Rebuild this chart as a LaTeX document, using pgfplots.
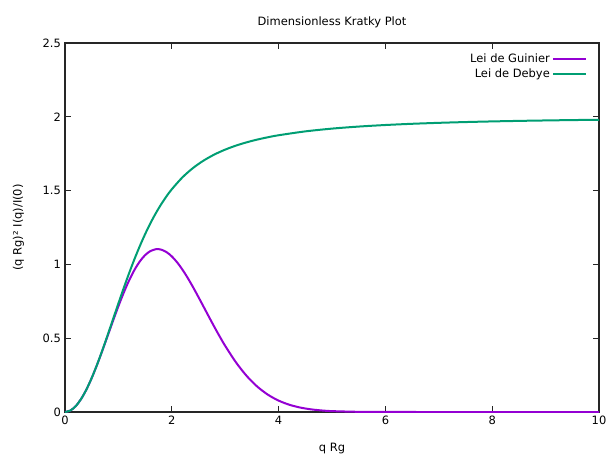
\documentclass[border=0pt]{standalone}
\usepackage{fontspec}
\setmainfont{DejaVu Sans}
\usepackage{pgfplots}
\pgfplotsset{compat=1.18}
\definecolor{gviolet}{HTML}{9400D3}
\definecolor{ggreen}{HTML}{009E73}
\begin{document}
\fontsize{8.6}{10.5}\selectfont
\begin{tikzpicture}
\useasboundingbox (-48.75pt,-32.25pt) rectangle (406.5pt,309pt);
\begin{axis}[
  at={(0pt,0pt)}, anchor=origin,
  width=400.5pt, height=276.75pt, scale only axis,
  xmin=0, xmax=10, ymin=0, ymax=2.5,
  xtick={0,2,4,6,8,10}, ytick={0,0.5,1,1.5,2,2.5},
  tick align=inside, major tick length=4.5pt,
  minor tick num=0,
  /pgf/number format/assume math mode=true,
  yticklabel style={/pgf/number format/fixed, /pgf/number format/precision=1},
  xlabel={q Rg}, ylabel={(q Rg)² I(q)/I(0)},
  title={Dimensionless Kratky Plot},
  title style={yshift=2pt},
  xlabel style={yshift=-8pt},
  ylabel style={yshift=8pt},
  axis line style={line width=0.9pt, black!85},
  every tick/.style={black!85, line width=0.6pt},
  legend style={draw=none, fill=none, at={(0.985,0.985)}, anchor=north east, row sep=-1pt,
    font=\fontsize{8.6}{10.5}\selectfont},
  legend cell align=right, legend plot pos=right,
  legend image code/.code={\draw[#1, line width=1.5pt] (0cm,0cm) -- (0.85cm,0cm);},
]
\addplot[gviolet, line width=1.5pt, smooth] coordinates {
(0,0)(0.1,0.009967)(0.2,0.03947)(0.3,0.08734)(0.4,0.15169)(0.5,0.23001)(0.6,0.31929)(0.7,0.41616)(0.8,0.51705)(0.9,0.61834)(1.0,0.71653)(1.1,0.80839)(1.2,0.89105)(1.3,0.96211)(1.4,1.01980)(1.5,1.06283)(1.6,1.09053)(1.7,1.10286)(1.732,1.10364)(1.8,1.10029)(1.9,1.08369)(2.0,1.05439)(2.1,1.01397)(2.2,0.96432)(2.3,0.90716)(2.4,0.84446)(2.5,0.77821)(2.6,0.71014)(2.7,0.64179)(2.8,0.57467)(2.9,0.50980)(3.0,0.44808)(3.2,0.33726)(3.4,0.24520)(3.6,0.17237)(3.8,0.11730)(4.0,0.07725)(4.2,0.04930)(4.4,0.03050)(4.6,0.01830)(4.8,0.01065)(5.0,0.00600)(5.5,0.00126)(6.0,0.00022)(7.0,0.000003)(8.0,0)(9.0,0)(10.0,0)
};
\addlegendentry{Lei de Guinier}
\addplot[ggreen, line width=1.5pt, smooth] coordinates {
(0,0)(0.1,0.009967)(0.2,0.039472)(0.3,0.08736)(0.4,0.15180)(0.5,0.23041)(0.6,0.32042)(0.7,0.41888)(0.8,0.52279)(0.9,0.62928)(1.0,0.73576)(1.1,0.84000)(1.2,0.94018)(1.3,1.03493)(1.4,1.12332)(1.5,1.20480)(1.6,1.27914)(1.7,1.34642)(1.8,1.40689)(1.9,1.46097)(2.0,1.50916)(2.2,1.59004)(2.4,1.65387)(2.6,1.70448)(2.8,1.74500)(3.0,1.77781)(3.2,1.80469)(3.4,1.82699)(3.6,1.84568)(3.8,1.86150)(4.0,1.875)(4.5,1.90123)(5.0,1.92)(5.5,1.93388)(6.0,1.94444)(6.5,1.95266)(7.0,1.95918)(7.5,1.96444)(8.0,1.96875)(8.5,1.97232)(9.0,1.97531)(9.5,1.97784)(10.0,1.98)
};
\addlegendentry{Lei de Debye}
\end{axis}
\end{tikzpicture}
\end{document}
